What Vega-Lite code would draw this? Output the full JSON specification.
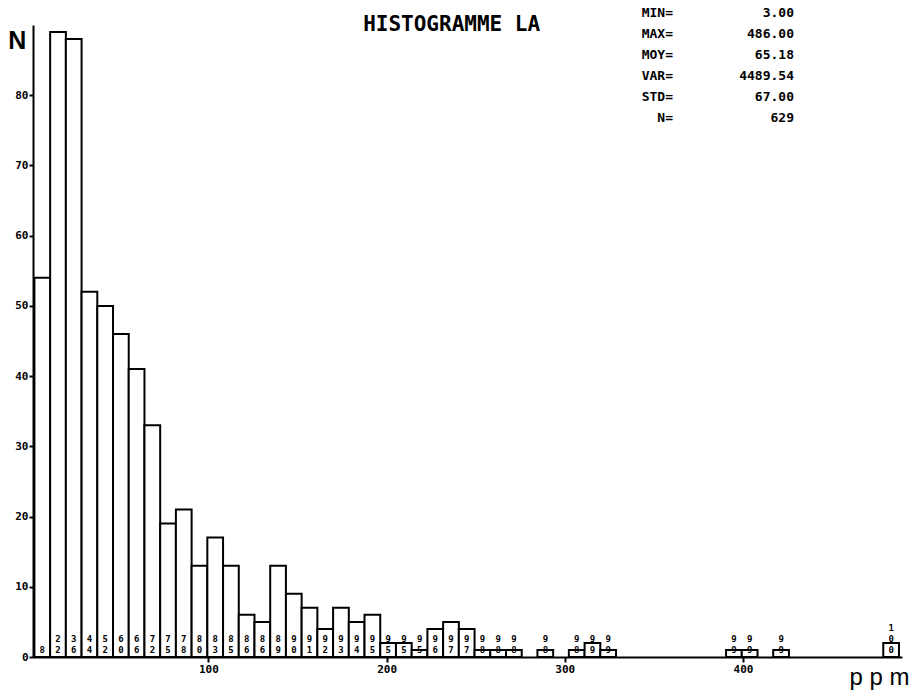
{
  "$schema": "https://vega.github.io/schema/vega-lite/v6.json",
  "width": 869,
  "height": 632,
  "autosize": {"type": "none"},
  "padding": {"left": 33, "top": 25, "right": 11, "bottom": 41},
  "background": "white",
  "config": {
    "view": {"stroke": null},
    "axis": {
      "grid": false,
      "domainColor": "black",
      "domainWidth": 2,
      "tickColor": "black",
      "tickWidth": 2,
      "labelColor": "black",
      "titleColor": "black",
      "labelFont": "DejaVu Sans Mono",
      "labelFontWeight": "bold",
      "labelFontSize": 11
    },
    "text": {
      "align": "center",
      "baseline": "bottom",
      "font": "DejaVu Sans Mono",
      "fontWeight": "bold",
      "fontSize": 9,
      "color": "black"
    }
  },
  "layer": [
    {
      "data": {
        "values": [
          {"b0": 2.4, "b1": 11.22, "n": 54, "u": "8"},
          {"b0": 11.22, "b1": 20.04, "n": 89, "t": "2", "u": "2"},
          {"b0": 20.04, "b1": 28.86, "n": 88, "t": "3", "u": "6"},
          {"b0": 28.86, "b1": 37.68, "n": 52, "t": "4", "u": "4"},
          {"b0": 37.68, "b1": 46.5, "n": 50, "t": "5", "u": "2"},
          {"b0": 46.5, "b1": 55.32, "n": 46, "t": "6", "u": "0"},
          {"b0": 55.32, "b1": 64.14, "n": 41, "t": "6", "u": "6"},
          {"b0": 64.14, "b1": 72.96, "n": 33, "t": "7", "u": "2"},
          {"b0": 72.96, "b1": 81.78, "n": 19, "t": "7", "u": "5"},
          {"b0": 81.78, "b1": 90.6, "n": 21, "t": "7", "u": "8"},
          {"b0": 90.6, "b1": 99.42, "n": 13, "t": "8", "u": "0"},
          {"b0": 99.42, "b1": 108.24, "n": 17, "t": "8", "u": "3"},
          {"b0": 108.24, "b1": 117.06, "n": 13, "t": "8", "u": "5"},
          {"b0": 117.06, "b1": 125.88, "n": 6, "t": "8", "u": "6"},
          {"b0": 125.88, "b1": 134.7, "n": 5, "t": "8", "u": "6"},
          {"b0": 134.7, "b1": 143.52, "n": 13, "t": "8", "u": "9"},
          {"b0": 143.52, "b1": 152.34, "n": 9, "t": "9", "u": "0"},
          {"b0": 152.34, "b1": 161.16, "n": 7, "t": "9", "u": "1"},
          {"b0": 161.16, "b1": 169.98, "n": 4, "t": "9", "u": "2"},
          {"b0": 169.98, "b1": 178.8, "n": 7, "t": "9", "u": "3"},
          {"b0": 178.8, "b1": 187.62, "n": 5, "t": "9", "u": "4"},
          {"b0": 187.62, "b1": 196.44, "n": 6, "t": "9", "u": "5"},
          {"b0": 196.44, "b1": 205.26, "n": 2, "t": "9", "u": "5"},
          {"b0": 205.26, "b1": 214.08, "n": 2, "t": "9", "u": "5"},
          {"b0": 214.08, "b1": 222.9, "n": 1, "t": "9", "u": "5"},
          {"b0": 222.9, "b1": 231.72, "n": 4, "t": "9", "u": "6"},
          {"b0": 231.72, "b1": 240.54, "n": 5, "t": "9", "u": "7"},
          {"b0": 240.54, "b1": 249.36, "n": 4, "t": "9", "u": "7"},
          {"b0": 249.36, "b1": 258.18, "n": 1, "t": "9", "u": "8"},
          {"b0": 258.18, "b1": 267.0, "n": 1, "t": "9", "u": "8"},
          {"b0": 267.0, "b1": 275.82, "n": 1, "t": "9", "u": "8"},
          {"b0": 284.64, "b1": 293.46, "n": 1, "t": "9", "u": "8"},
          {"b0": 302.28, "b1": 311.1, "n": 1, "t": "9", "u": "8"},
          {"b0": 311.1, "b1": 319.92, "n": 2, "t": "9", "u": "9"},
          {"b0": 319.92, "b1": 328.74, "n": 1, "t": "9", "u": "9"},
          {"b0": 390.48, "b1": 399.3, "n": 1, "t": "9", "u": "9"},
          {"b0": 399.3, "b1": 408.12, "n": 1, "t": "9", "u": "9"},
          {"b0": 416.94, "b1": 425.76, "n": 1, "t": "9", "u": "9"},
          {"b0": 478.68, "b1": 487.5, "n": 2, "h": "1", "t": "0", "u": "0"}
        ]
      },
      "layer": [
        {
          "mark": {"type": "bar", "fill": "white", "stroke": "black", "strokeWidth": 2},
          "encoding": {
            "x": {
              "field": "b0",
              "type": "quantitative",
              "scale": {"domain": [1.6, 489.2], "nice": false, "zero": false},
              "axis": {
                "values": [100, 200, 300, 400],
                "tickSize": 5,
                "labelPadding": 1,
                "labelFlush": false,
                "labelOverlap": false,
                "title": "p p m",
                "titleX": 846,
                "titleY": 27,
                "titleAlign": "center",
                "titleBaseline": "alphabetic",
                "titleFont": "Liberation Sans",
                "titleFontSize": 24,
                "titleFontWeight": "normal"
              }
            },
            "x2": {"field": "b1"},
            "y": {
              "field": "n",
              "type": "quantitative",
              "scale": {"domain": [0, 90], "nice": false},
              "axis": {
                "values": [0, 10, 20, 30, 40, 50, 60, 70, 80],
                "tickSize": 4,
                "labelPadding": 1,
                "labelFlush": false,
                "labelOverlap": false,
                "title": "N",
                "titleAngle": 0,
                "titleX": -16.3,
                "titleY": 23,
                "titleAlign": "center",
                "titleBaseline": "alphabetic",
                "titleFont": "Liberation Sans",
                "titleFontSize": 25,
                "titleFontWeight": "bold"
              }
            },
            "y2": {"datum": 0}
          }
        },
        {
          "mark": {"type": "text", "dx": 7.9, "dy": -2},
          "encoding": {
            "x": {"field": "b0", "type": "quantitative"},
            "y": {"datum": 0, "type": "quantitative"},
            "text": {"field": "u", "type": "nominal"}
          }
        },
        {
          "transform": [{"filter": {"field": "t", "valid": true}}],
          "mark": {"type": "text", "dx": 7.9, "dy": -13},
          "encoding": {
            "x": {"field": "b0", "type": "quantitative"},
            "y": {"datum": 0, "type": "quantitative"},
            "text": {"field": "t", "type": "nominal"}
          }
        },
        {
          "transform": [{"filter": {"field": "h", "valid": true}}],
          "mark": {"type": "text", "dx": 7.9, "dy": -24},
          "encoding": {
            "x": {"field": "b0", "type": "quantitative"},
            "y": {"datum": 0, "type": "quantitative"},
            "text": {"field": "h", "type": "nominal"}
          }
        },
        {
          "data": {"values": [{"title": "HISTOGRAMME LA"}]},
          "mark": {
            "type": "text",
            "align": "center",
            "baseline": "alphabetic",
            "fontWeight": "bold",
            "fontSize": 21
          },
          "encoding": {
            "x": {"datum": 236.5, "type": "quantitative"},
            "y": {"datum": 89.1, "type": "quantitative"},
            "text": {"field": "title", "type": "nominal"}
          }
        }
      ]
    },
    {
      "data": {
        "values": [
          {"k": "MIN=", "v": "3.00"},
          {"k": "MAX=", "v": "486.00"},
          {"k": "MOY=", "v": "65.18"},
          {"k": "VAR=", "v": "4489.54"},
          {"k": "STD=", "v": "67.00"},
          {"k": "N=", "v": "629"}
        ]
      },
      "encoding": {
        "y": {
          "field": "k",
          "type": "nominal",
          "sort": null,
          "scale": {"type": "point", "range": [-8.3, 97], "padding": 0},
          "axis": null
        }
      },
      "layer": [
        {
          "mark": {"type": "text", "align": "right", "baseline": "alphabetic", "fontSize": 13},
          "encoding": {
            "x": {"datum": 360.7, "type": "quantitative"},
            "text": {"field": "k", "type": "nominal"}
          }
        },
        {
          "mark": {"type": "text", "align": "right", "baseline": "alphabetic", "fontSize": 13},
          "encoding": {
            "x": {"datum": 428.6, "type": "quantitative"},
            "text": {"field": "v", "type": "nominal"}
          }
        }
      ]
    }
  ],
  "resolve": {"scale": {"y": "independent"}}
}
